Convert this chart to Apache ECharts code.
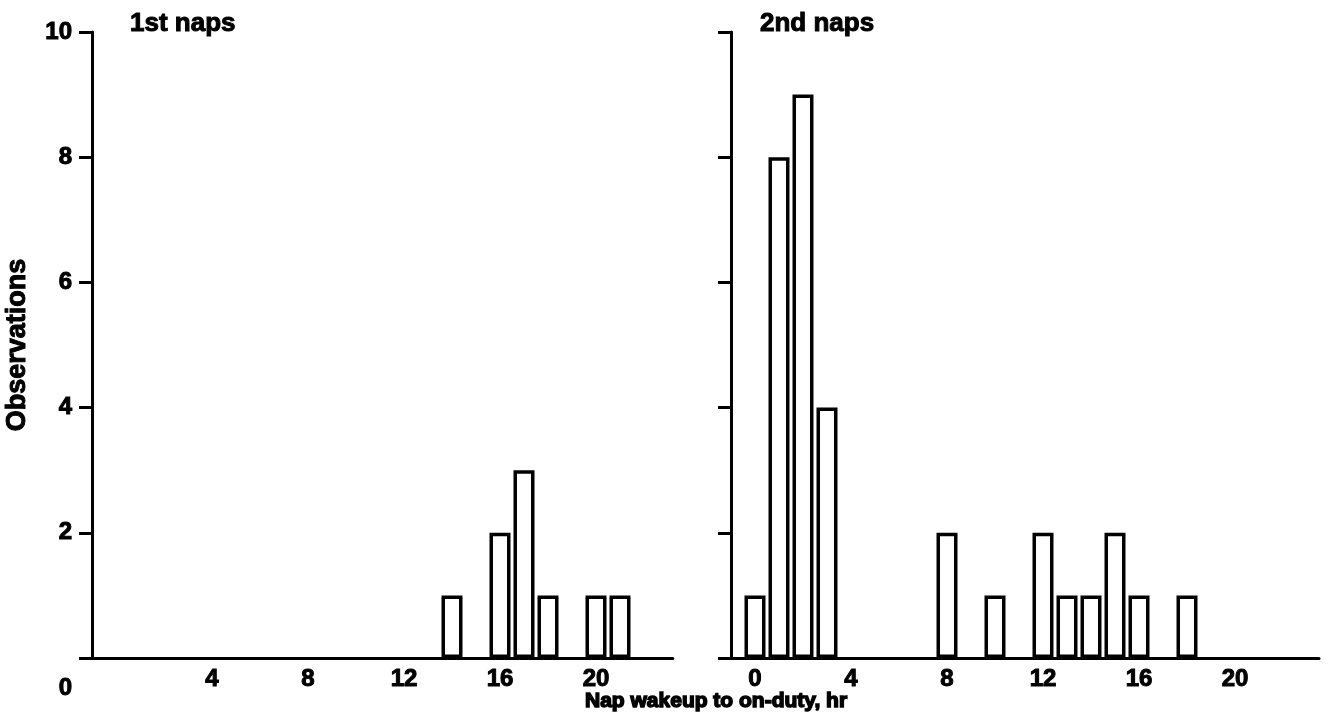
<!DOCTYPE html>
<html>
<head>
<meta charset="utf-8">
<script src="https://cdn.jsdelivr.net/npm/echarts@6/dist/echarts.min.js"></script>
<style>
html,body{margin:0;padding:0;background:#fff;}
#chart{width:1328px;height:728px;}
</style>
</head>
<body>
<div id="chart"></div>
<script>
// Data
const panelTitles = ['1st naps', '2nd naps'];
const firstNapHours = [14, 16, 17, 18, 20, 21];
const firstNapCounts = [1, 2, 3, 1, 1, 1];
const secondNapHours = [0, 1, 2, 3, 8, 10, 12, 13, 14, 15, 16, 18];
const secondNapCounts = [1, 8, 9, 4, 2, 1, 2, 1, 1, 2, 1, 1];
const firstTickLabels = [4, 8, 12, 16, 20];
const secondTickLabels = [0, 4, 8, 12, 16, 20];
const xAxisTitle = 'Nap wakeup to on-duty, hr';
const yAxisTitle = 'Observations';

const FONT = 'Liberation Sans, Arial, Helvetica, sans-serif';
const chart = echarts.init(document.getElementById('chart'), null, {renderer: 'canvas'});

function pairs(xs, ys) { return xs.map((x, i) => [x, ys[i]]); }

const axisLineStyle = {color: '#000', width: 3};
const heavy = {textBorderColor: '#000', textBorderWidth: 1};
const labelStyle = Object.assign({color: '#000', fontFamily: FONT, fontWeight: 'bold', fontSize: 24}, heavy);
const titleStyle = Object.assign({color: '#000', fontFamily: FONT, fontWeight: 'bold', fontSize: 26}, heavy);

function xAxisFor(gridIndex, min, max, ticks) {
  return {
    type: 'value', gridIndex, min, max,
    axisLine: {show: true, onZero: false, lineStyle: axisLineStyle},
    axisTick: {show: false},
    splitLine: {show: false},
    axisLabel: Object.assign({margin: 9, customValues: ticks, showMinLabel: true, showMaxLabel: true}, labelStyle)
  };
}

function yAxisFor(gridIndex, showLabels) {
  const ax = {
    type: 'value', gridIndex, min: 0, max: 10, interval: 2,
    axisLine: {show: true, onZero: false, lineStyle: axisLineStyle},
    axisTick: {show: true, length: 13, lineStyle: {color: '#000', width: 3}},
    splitLine: {show: false},
    axisLabel: Object.assign({
      show: showLabels, margin: 20,
      formatter: v => (v === 0 ? '{z|0}' : String(v)),
      rich: {z: Object.assign({padding: [60, 0, 0, 0], color: '#000', fontFamily: FONT, fontWeight: 'bold', fontSize: 24}, heavy)}
    }, labelStyle)
  };
  if (showLabels) {
    Object.assign(ax, {
      name: yAxisTitle, nameLocation: 'middle', nameGap: 61, nameRotate: 90,
      nameTextStyle: Object.assign({}, titleStyle, {fontSize: 27})
    });
  }
  return ax;
}

const barStyle = {color: '#fff', borderColor: '#000', borderWidth: 3.5};

const option = {
  backgroundColor: '#fff',
  animation: false,
  title: [
    {text: panelTitles[0], left: 125, top: 6, textStyle: titleStyle},
    {text: panelTitles[1], left: 755, top: 6, textStyle: titleStyle},
    {text: xAxisTitle, left: 580, top: 686, textStyle: Object.assign({}, titleStyle, {fontSize: 21, textBorderWidth: 1.5})}
  ],
  grid: [
    {left: 92, top: 32, width: 580.8, bottom: 70, containLabel: false},
    {left: 731, top: 32, width: 588, bottom: 70, containLabel: false}
  ],
  xAxis: [
    xAxisFor(0, -1, 23.2, firstTickLabels),
    xAxisFor(1, -1, 23.5, secondTickLabels)
  ],
  yAxis: [yAxisFor(0, true), yAxisFor(1, false)],
  series: [
    {type: 'bar', xAxisIndex: 0, yAxisIndex: 0, barWidth: 21, itemStyle: barStyle, data: pairs(firstNapHours, firstNapCounts)},
    {type: 'bar', xAxisIndex: 1, yAxisIndex: 1, barWidth: 21, itemStyle: barStyle, data: pairs(secondNapHours, secondNapCounts)}
  ]
};
chart.setOption(option);
</script>
</body>
</html>
